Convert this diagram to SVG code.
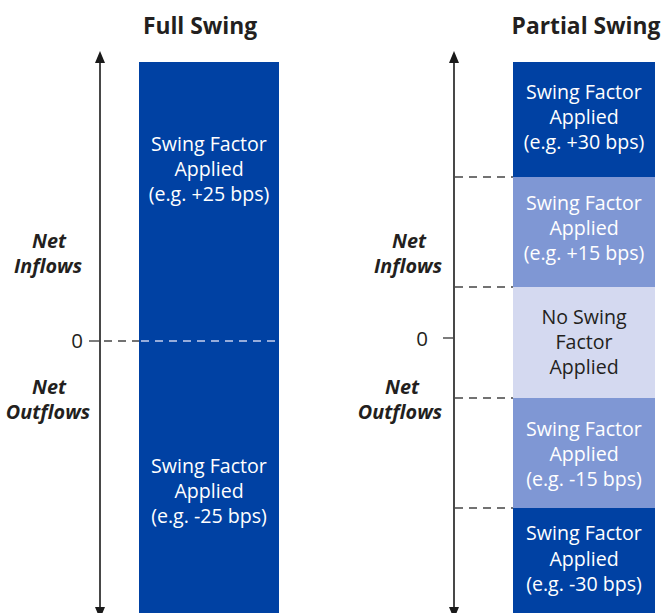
<svg xmlns="http://www.w3.org/2000/svg" width="661" height="613" viewBox="0 0 661 613">
  <defs>
    <style>
      .head { font-family: "Open Sans", "Noto Sans", sans-serif; font-weight: bold; font-size: 22.8px; fill: #231f20; text-anchor: middle; }
      .lbl { font-family: "Open Sans", "Noto Sans", sans-serif; font-size: 19.6px; text-anchor: middle; }
      .w { fill: #ffffff; }
      .k { fill: #231f20; }
      .side { font-family: "Open Sans", "Noto Sans", sans-serif; font-style: italic; font-weight: bold; font-size: 19.8px; fill: #231f20; text-anchor: middle; }
      .zero { font-family: "Open Sans", "Noto Sans", sans-serif; font-size: 20.5px; fill: #231f20; text-anchor: middle; }
      .axis { stroke: #1a1a1a; stroke-width: 1.6; fill: none; }
      .head-tip { fill: #1a1a1a; }
      .dash { stroke: #444; stroke-width: 1.4; stroke-dasharray: 8 6; fill: none; }
      .dash-light { stroke: #c7cfee; stroke-width: 1.4; stroke-dasharray: 8 6; fill: none; }
      .tick { stroke: #444; stroke-width: 1.4; }
      .dark { fill: #0041a3; }
      .mid { fill: #7f97d4; }
      .pale { fill: #d4d9f0; }
    </style>
  </defs>

  <!-- column titles -->
  <text class="head" x="200" y="34">Full Swing</text>
  <text class="head" x="586" y="34">Partial Swing</text>

  <!-- full swing column -->
  <g id="full-axis">
    <line class="axis" x1="100" y1="60" x2="100" y2="607"/>
    <path class="head-tip" d="M100,51 L105,63 L95,63 Z"/>
    <path class="head-tip" d="M100,619 L105,607 L95,607 Z"/>
    <text class="side" x="49" y="248">Net</text>
    <text class="side" x="48" y="273">Inflows</text>
    <text class="side" x="49" y="394">Net</text>
    <text class="side" x="48" y="419">Outflows</text>
    <text class="zero" x="77" y="348">0</text>
  </g>
  <g id="full-bar">
    <rect class="dark" x="139" y="62" width="140" height="551"/>
    <text class="lbl w" x="209" y="151">Swing Factor</text>
    <text class="lbl w" x="209" y="176">Applied</text>
    <text class="lbl w" x="209" y="201">(e.g. +25 bps)</text>
    <text class="lbl w" x="209" y="473">Swing Factor</text>
    <text class="lbl w" x="209" y="498">Applied</text>
    <text class="lbl w" x="209" y="523">(e.g. -25 bps)</text>
  </g>

  <!-- partial swing column -->
  <g id="partial-axis">
    <line class="axis" x1="454" y1="60" x2="454" y2="607"/>
    <path class="head-tip" d="M454,51 L459,63 L449,63 Z"/>
    <path class="head-tip" d="M454,619 L459,607 L449,607 Z"/>
    <text class="side" x="409" y="248">Net</text>
    <text class="side" x="408" y="273">Inflows</text>
    <text class="side" x="402" y="394">Net</text>
    <text class="side" x="400" y="419">Outflows</text>
    <text class="zero" x="422" y="346">0</text>
  </g>
  <g id="band-plus30">
    <rect class="dark" x="513" y="62" width="142" height="115"/>
    <text class="lbl w" x="584" y="99">Swing Factor</text>
    <text class="lbl w" x="584" y="124">Applied</text>
    <text class="lbl w" x="584" y="149">(e.g. +30 bps)</text>
  </g>
  <g id="band-plus15">
    <rect class="mid" x="513" y="177" width="142" height="110"/>
    <text class="lbl w" x="584" y="210">Swing Factor</text>
    <text class="lbl w" x="584" y="235">Applied</text>
    <text class="lbl w" x="584" y="260">(e.g. +15 bps)</text>
  </g>
  <g id="band-none">
    <rect class="pale" x="513" y="287" width="142" height="111"/>
    <text class="lbl k" x="584" y="324">No Swing</text>
    <text class="lbl k" x="584" y="349">Factor</text>
    <text class="lbl k" x="584" y="374">Applied</text>
  </g>
  <g id="band-minus15">
    <rect class="mid" x="513" y="398" width="142" height="110"/>
    <text class="lbl w" x="584" y="436">Swing Factor</text>
    <text class="lbl w" x="584" y="461">Applied</text>
    <text class="lbl w" x="584" y="486">(e.g. -15 bps)</text>
  </g>
  <g id="band-minus30">
    <rect class="dark" x="513" y="508" width="142" height="105"/>
    <text class="lbl w" x="584" y="540">Swing Factor</text>
    <text class="lbl w" x="584" y="566">Applied</text>
    <text class="lbl w" x="584" y="591">(e.g. -30 bps)</text>
  </g>

  <!-- zero ticks and threshold guides -->
  <g id="connectors">
    <line class="tick" x1="89" y1="341" x2="100" y2="341"/>
    <line class="dash" x1="104" y1="341" x2="139" y2="341"/>
    <line class="dash-light" x1="141" y1="341" x2="278" y2="341"/>
    <line class="tick" x1="443" y1="338" x2="454" y2="338"/>
    <line class="dash" x1="455" y1="177" x2="513" y2="177"/>
    <line class="dash" x1="455" y1="287" x2="513" y2="287"/>
    <line class="dash" x1="455" y1="398" x2="513" y2="398"/>
    <line class="dash" x1="455" y1="508" x2="513" y2="508"/>
  </g>
</svg>
